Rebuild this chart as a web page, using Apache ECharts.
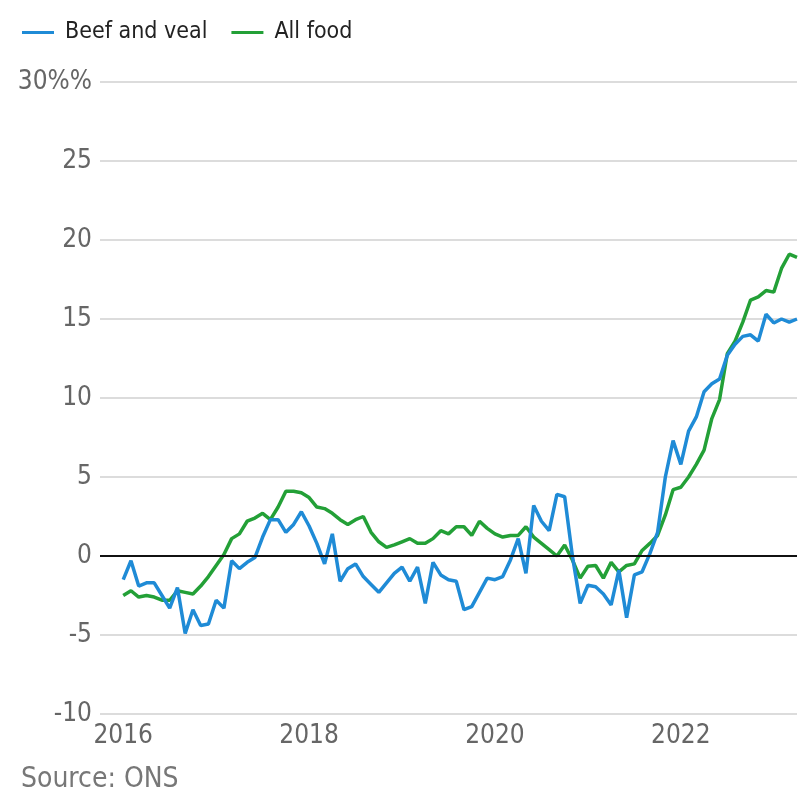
<!DOCTYPE html>
<html>
<head>
<meta charset="utf-8">
<script src="https://cdn.jsdelivr.net/npm/echarts@6/dist/echarts.min.js"></script>
<style>
  html, body { margin: 0; padding: 0; background: #fff; }
  #chart { width: 800px; height: 800px; }
</style>
</head>
<body>
<div id="chart"></div>
<script>
// monthly, Jan 2016 .. Apr 2023, annual % change (ONS)
const startYear = 2016
const beefVeal = [
  -1.5, -0.3, -1.9, -1.7, -1.7, -2.5, -3.3, -2.0, -4.9, -3.4, -4.4, -4.3,
  -2.8, -3.3, -0.3, -0.8, -0.4, -0.1, 1.2, 2.3, 2.3, 1.5, 2.0, 2.8,
  1.9, 0.8, -0.5, 1.4, -1.6, -0.8, -0.5, -1.3, -1.8, -2.3, -1.7, -1.1,
  -0.7, -1.6, -0.7, -3.0, -0.4, -1.2, -1.5, -1.6, -3.4, -3.2, -2.3, -1.4,
  -1.5, -1.3, -0.25, 1.1, -1.1, 3.2, 2.2, 1.6, 3.9, 3.75, 0.0, -3.0,
  -1.85, -1.95, -2.4, -3.1, -0.9, -3.9, -1.2, -1.0, 0.15, 1.5, 5.0, 7.3,
  5.8, 7.9, 8.8, 10.4, 10.9, 11.2, 12.7, 13.4, 13.9, 14.0, 13.6, 15.3,
  14.75, 15.0, 14.8, 15.0
]
const allFood = [
  -2.5, -2.2, -2.6, -2.5, -2.6, -2.8, -2.8, -2.2, -2.3, -2.4, -1.9, -1.3,
  -0.6, 0.1, 1.1, 1.4, 2.2, 2.4, 2.7, 2.3, 3.1, 4.1, 4.1, 4.0,
  3.7, 3.1, 3.0, 2.7, 2.3, 2.0, 2.3, 2.5, 1.5, 0.9, 0.55, 0.7,
  0.9, 1.1, 0.8, 0.8, 1.1, 1.6, 1.4, 1.85, 1.85, 1.3, 2.2, 1.75,
  1.4, 1.2, 1.3, 1.3, 1.85, 1.2, 0.8, 0.4, 0.0, 0.7, -0.25, -1.4,
  -0.65, -0.6, -1.4, -0.4, -1.0, -0.6, -0.5, 0.35, 0.8, 1.3, 2.6, 4.2,
  4.35, 5.0, 5.8, 6.7, 8.7, 9.9, 12.8, 13.6, 14.8, 16.2, 16.4, 16.8,
  16.7, 18.2, 19.1, 18.9
]
const yearLabels = [2016, 2018, 2020, 2022]
const seriesNames = ['Beef and veal', 'All food']

const font = '"Liberation Sans Narrow", "DejaVu Sans Condensed", Roboto, sans-serif'

// x position of each month as a decimal year
const toPairs = (vals) => vals.map((v, i) => [startYear + i / 12, v])

const myChart = echarts.init(document.getElementById('chart'))
const option = {
  animation: false,
  textStyle: { fontFamily: font },
  grid: { left: 100, right: 0, top: 82, bottom: 86 },
  legend: {
    data: seriesNames,
    left: 22,
    top: 21,
    padding: 0,
    icon: 'rect',
    itemWidth: 32,
    itemHeight: 3,
    itemGap: 24,
    textStyle: { fontFamily: font, fontSize: 23, color: '#222', padding: [0, 0, 0, 6] }
  },
  title: {
    text: 'Source: ONS',
    left: 21,
    top: 766,
    padding: 0,
    textStyle: { fontFamily: font, fontSize: 28, fontWeight: 'normal', color: '#777' }
  },
  xAxis: {
    type: 'value',
    min: 2015.75,
    max: 2023.25,
    interval: 0.25,
    axisLine: { show: false },
    axisTick: { show: false },
    splitLine: { show: false },
    axisLabel: {
      margin: 9,
      fontFamily: font,
      fontSize: 26,
      color: '#666',
      showMinLabel: true,
      showMaxLabel: true,
      formatter: (v) => {
        const y = Math.round(v)
        return Math.abs(v - y) < 1e-6 && yearLabels.includes(y) ? String(y) : ''
      }
    }
  },
  yAxis: {
    type: 'value',
    min: -10,
    max: 30,
    interval: 5,
    axisLine: { show: false },
    axisTick: { show: false },
    splitLine: { lineStyle: { color: '#dcdcdc', width: 2 } },
    axisLabel: {
      margin: 8,
      fontFamily: font,
      fontSize: 26,
      color: '#666',
      formatter: (v) => (v === 30 ? '30%%' : String(v))
    }
  },
  series: [
    {
      name: seriesNames[0],
      type: 'line',
      data: toPairs(beefVeal),
      showSymbol: false,
      lineStyle: { color: '#1f8bd6', width: 3.5 },
      itemStyle: { color: '#1f8bd6' },
      z: 3,
      markLine: {
        silent: true,
        symbol: 'none',
        label: { show: false },
        lineStyle: { color: '#111', width: 2, type: 'solid' },
        data: [{ yAxis: 0 }]
      }
    },
    {
      name: seriesNames[1],
      type: 'line',
      data: toPairs(allFood),
      showSymbol: false,
      lineStyle: { color: '#23a037', width: 3.5 },
      itemStyle: { color: '#23a037' },
      z: 2
    }
  ]
}
myChart.setOption(option)
</script>
</body>
</html>
